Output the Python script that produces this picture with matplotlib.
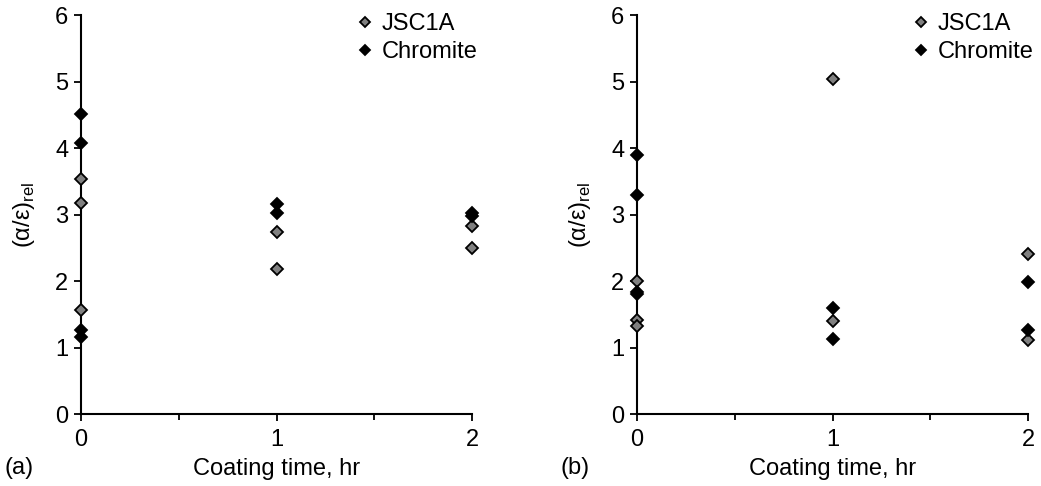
import matplotlib
matplotlib.use("Agg")
import matplotlib.pyplot as plt

plt.rcParams['font.family'] = ['Liberation Sans', 'DejaVu Sans']
plt.rcParams['mathtext.fontset'] = 'custom'
plt.rcParams['mathtext.rm'] = 'Liberation Sans'

# Panel (a)
a_jsc_x = [0, 0, 0, 1, 1, 2, 2]
a_jsc_y = [3.54, 3.17, 1.57, 2.74, 2.18, 2.83, 2.49]
a_chr_x = [0, 0, 0, 0, 1, 1, 2, 2]
a_chr_y = [4.51, 4.07, 1.27, 1.16, 3.16, 3.02, 3.03, 2.97]

# Panel (b)
b_jsc_x = [0, 0, 0, 1, 1, 2, 2]
b_jsc_y = [2.00, 1.42, 1.32, 5.04, 1.40, 2.40, 1.11]
b_chr_x = [0, 0, 0, 0, 1, 1, 2, 2]
b_chr_y = [3.89, 3.29, 1.84, 1.80, 1.60, 1.13, 1.98, 1.26]

xticks_major = [0, 1, 2]
xticks_minor = [0.5, 1.5]
yticks = [0, 1, 2, 3, 4, 5, 6]
panel_labels = ['(a)', '(b)']

fig = plt.figure(figsize=(10.41, 4.86), dpi=100)
ax_a = fig.add_axes([81/1041, 72/486, 391/1041, 399/486])
ax_b = fig.add_axes([637/1041, 72/486, 391/1041, 399/486])

fs = 17
panels = [(ax_a, a_jsc_x, a_jsc_y, a_chr_x, a_chr_y),
          (ax_b, b_jsc_x, b_jsc_y, b_chr_x, b_chr_y)]
for i, (ax, jx, jy, cx, cy) in enumerate(panels):
    ax.plot(jx, jy, linestyle='none', marker='D', markersize=6.5,
            markerfacecolor='#808080', markeredgecolor='black',
            markeredgewidth=1.3, label='JSC1A', clip_on=False, zorder=3)
    ax.plot(cx, cy, linestyle='none', marker='D', markersize=6.5,
            markerfacecolor='black', markeredgecolor='black',
            markeredgewidth=1.3, label='Chromite', clip_on=False, zorder=3)
    ax.set_xlim(0, 2)
    ax.set_ylim(0, 6)
    ax.set_xticks(xticks_major)
    ax.set_xticks(xticks_minor, minor=True)
    ax.set_yticks(yticks)
    ax.tick_params(axis='both', which='both', direction='out', labelsize=fs,
                   width=1.3, color='black')
    ax.tick_params(axis='both', which='major', length=5)
    ax.tick_params(axis='x', which='major', pad=6)
    ax.tick_params(axis='y', which='major', pad=4)
    ax.tick_params(axis='x', which='minor', length=4)
    for s in ['top', 'right']:
        ax.spines[s].set_visible(False)
    for s in ['left', 'bottom']:
        ax.spines[s].set_linewidth(1.5)
    ax.set_xlabel('Coating time, hr', fontsize=fs, labelpad=5)
    ax.set_ylabel(r'(α/ε)$_{\mathrm{rel}}$', fontsize=fs, labelpad=13)
    leg = ax.legend(loc='upper left', frameon=False, fontsize=fs,
                    handlelength=0.6, handletextpad=0.4, labelspacing=0.25,
                    borderpad=0.0, borderaxespad=0.0, markerscale=0.75,
                    bbox_to_anchor=(0.708, 1.005))
    ax.text(-0.195, -0.135, panel_labels[i], transform=ax.transAxes,
            fontsize=fs, ha='left', va='center')

fig.savefig('out.png', dpi=100)
